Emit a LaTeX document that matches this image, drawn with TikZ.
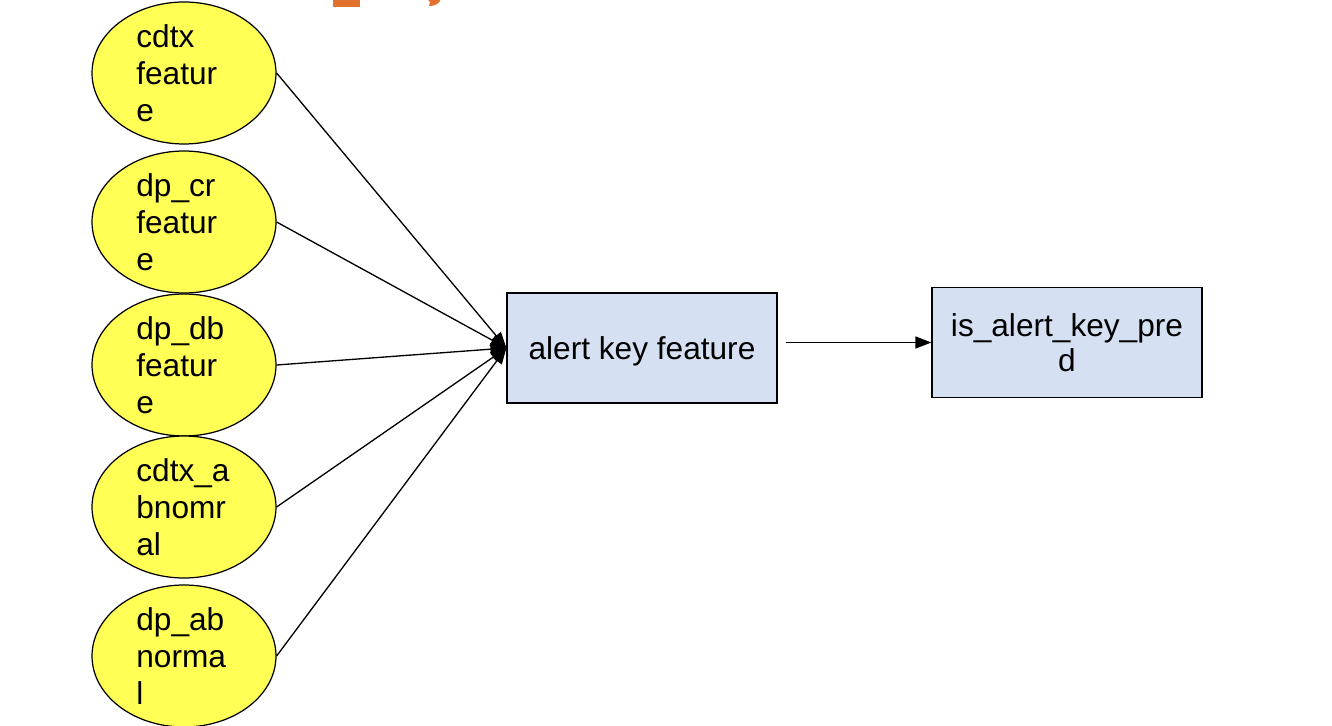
\documentclass[tikz,border=0pt]{standalone}
\usepackage{fontspec}
\setmainfont{Liberation Sans}
\usetikzlibrary{arrows.meta,shapes.geometric,positioning}
\definecolor{featyellow}{RGB}{255,255,85}
\definecolor{boxblue}{RGB}{213,225,242}
\definecolor{titleorange}{RGB}{226,113,46}
\tikzset{
  box/.style={draw,line width=0.7pt,fill=boxblue,minimum width=5.4cm,minimum height=2.2cm,
              align=center,font=\fontsize{18}{20}\selectfont},
  link/.style={line width=0.75pt,-{Triangle[length=0.32cm,width=0.24cm]}}
}
\begin{document}
\begin{tikzpicture}[x=0.02cm,y=-0.02cm]
\useasboundingbox (0,0) rectangle (1332,726);
% cut-off title at the top
\fill[titleorange] (333,-1) rectangle (360,7);
\fill[titleorange] (427,-1) -- (441,-1) .. controls (439,4) and (435,6) .. (429,6) -- (430,2) -- cycle;

\begin{scope}[every node/.style={ellipse,draw,line width=0.7pt,fill=featyellow,
              minimum width=3.68cm,minimum height=2.84cm,inner sep=0pt}]
    \node (cdtx) at (184,73) {};
    \node (dpcr) at (184,222) {};
    \node (dpdb) at (184,365) {};
    \node (cdtxab) at (184,507) {};
    \node (dpab) at (184,656) {};
\end{scope}

\begin{scope}[every node/.style={anchor=west,align=left,text width=2.2cm,inner sep=0pt,
              font=\fontsize{18}{21}\selectfont}]
    \node (cdtx-t) at ([xshift=-0.96cm]cdtx.center) {cdtx\\featur\\e};
    \node (dpcr-t) at ([xshift=-0.96cm]dpcr.center) {dp\_cr\\featur\\e};
    \node (dpdb-t) at ([xshift=-0.96cm]dpdb.center) {dp\_db\\featur\\e};
    \node (cdtxab-t) at ([xshift=-0.96cm]cdtxab.center) {cdtx\_a\\bnomr\\al};
    \node (dpab-t) at ([xshift=-0.96cm]dpab.center) {dp\_ab\\norma\\l};
\end{scope}

\node[box,text height=0.5cm,text depth=0.02cm] (akf) at (642,348) {alert key feature};
\node[box] (pred) at (1067,342.5) {is\_alert\_key\_pre\\d};

\begin{scope}[every edge/.style={draw,link}]
    \path (cdtx.east) edge (akf.west);
    \path (dpcr.east) edge (akf.west);
    \path (dpdb.east) edge (akf.west);
    \path (cdtxab.east) edge (akf.west);
    \path (dpab.east) edge (akf.west);
\end{scope}
\draw[link,shorten <=0.16cm] (akf.east |- pred.west) -- (pred.west);
\end{tikzpicture}
\end{document}
